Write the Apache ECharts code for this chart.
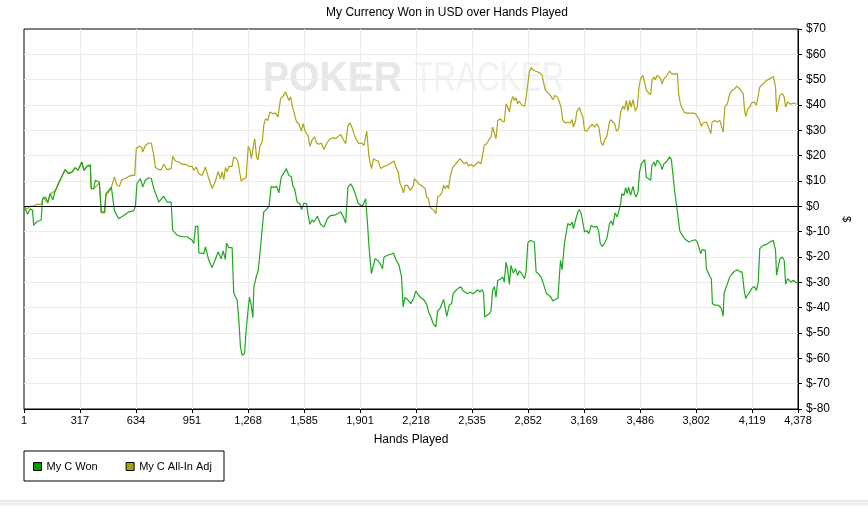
<html>
<head>
<meta charset="utf-8" />
<script src="https://cdn.jsdelivr.net/npm/echarts@6/dist/echarts.min.js"></script>
<style type="text/css">
	html, body, #main {
	width: 100%;
	height: 100%;
	margin: 0;
	background: #fff;
}
</style>
</head>
<body>
	<div id="main"></div>
	<script>
		var handTicks = [1, 317, 634, 951, 1268, 1585, 1901, 2218, 2535, 2852, 3169, 3486, 3802, 4119, 4378];

		// [hand, dollars]
		var myCWon = [
			[1,0],[7,0],[21,-3],[36,-1],[49,-1.5],[56,-7.5],[73,-6],[98,-5.5],[106,3],[121,3.7],[136,1.7],[149,5],[164,2.6],[177,6],[196,9],[215,11.8],[234,14.5],[253,12.9],[272,13.5],[291,15.3],[306,14.2],[328,17.5],[340,14.2],[357,15.8],[376,16.4],[381,7],[395,7],[404,10.3],[427,9.6],[438,-2.2],[457,-2.2],[464,5],[480,6.3],[495,7.6],[506,7.4],[512,-1.6],[536,-4.9],[565,-3.6],[593,-2.2],[621,-1.8],[631,0],[640,9],[659,11],[672,7.6],[687,10.3],[706,11.3],[721,11],[735,7],[744,7.6],[763,1.7],[791,4],[810,1.7],[833,1.7],[842,-9.5],[867,-11.4],[895,-12],[923,-12],[952,-13.4],[961,-14.7],[971,-7.9],[984,-7.9],[990,-18.4],[1018,-18.7],[1027,-16],[1046,-21.3],[1065,-24.2],[1084,-20.7],[1099,-18],
			[1108,-18],[1116,-20.7],[1127,-17.6],[1140,-21],[1146,-14.5],[1159,-16.3],[1178,-16.3],[1187,-34.2],[1197,-35.8],[1206,-36.8],[1216,-45],[1225,-55.5],[1235,-58.8],[1248,-58.2],[1257,-49],[1267,-41.7],[1276,-35.8],[1286,-39],[1295,-44],[1301,-31.8],[1314,-27.9],[1325,-25.5],[1333,-20.3],[1344,-20.3],[1357,-2.2],[1371,-1.3],[1386,0],[1399,7.9],[1414,7.4],[1429,7.9],[1442,5.3],[1456,11.6],[1471,13.2],[1484,14.9],[1499,12.2],[1512,11.8],[1522,7.9],[1531,7],[1546,1.7],[1561,1],[1571,-1.3],[1584,1.3],[1599,1],[1607,-3.2],[1618,-7.1],[1631,-5.3],[1641,-6.2],[1660,-3.9],[1678,-7.1],[1697,-8.2],[1716,-4.9],[1735,-3.6],[1754,-3.6],[1773,-2.9],[1792,-2.2],[1807,-4.2],[1820,-6.6],[1833,7.6],[1848,8.9],[1864,7],[1877,4.3],[1890,1.3],[1905,0.4],[1918,0.4],[1933,3],[1943,-6.2],[1952,-16],[1966,-26.6],[1977,-26.6],[1986,-20.7],[2000,-21.3],[2015,-22.6],[2028,-24.6],[2037,-20],[2056,-19.3],[2075,-18.9],[2090,-18.4],[2104,-21],[2122,-23.3],[2136,-27.9],[2145,-39.7],[2155,-36],[2170,-36.8],[2189,-38.4],[2204,-36.4],
			[2207,-36.4],[2217,-33.4],[2232,-35.1],[2245,-36],[2264,-37.1],[2277,-38.4],[2289,-41.7],[2302,-43.7],[2315,-46.3],[2330,-47.6],[2340,-41.3],[2353,-40.4],[2364,-40],[2374,-36.8],[2383,-36.4],[2392,-43.4],[2406,-39],[2419,-38.4],[2428,-34.5],[2443,-33.2],[2459,-32.2],[2472,-31.8],[2485,-33.4],[2496,-32.9],[2510,-34.5],[2523,-33.8],[2538,-34.5],[2553,-33.8],[2566,-32.9],[2579,-33.8],[2591,-32.9],[2600,-34.2],[2606,-43.7],[2617,-44.3],[2632,-42.4],[2642,-41.3],[2651,-33.2],[2661,-31.6],[2670,-36],[2680,-29.2],[2693,-28.9],[2708,-27.9],[2717,-29.9],[2727,-22],[2736,-25],[2746,-30.8],[2755,-23.3],[2768,-26.3],[2780,-24.6],[2793,-27.2],[2802,-25.5],[2816,-26.6],[2831,-28.6],[2840,-25.9],[2850,-14.5],[2863,-13.4],[2874,-13.2],[2887,-14.1],[2897,-25.9],[2910,-26.6],[2925,-27.9],[2938,-30.5],[2950,-33.2],[2957,-34.5],[2969,-35.1],[2982,-36],[2991,-37.4],[3004,-36.8],[3020,-36.4],[3029,-37.1],[3035,-21.3],[3044,-25],[3057,-14.7],[3067,-14.5],[3076,-6.8],[3089,-7.5],[3101,-6.2],[3108,-8.8],[3120,-5.5],[3133,-2.2],[3142,-1.3],[3152,-2.9],[3161,-3.6],[3171,-10.1],[3184,-9.5],[3195,-10.8],[3209,-7.5],[3222,-8.2],[3233,-8.8],[3241,-7.9],[3250,-9.5],[3260,-14.7],[3271,-15.8],[3284,-14.5],[3297,-12.8],[3312,-6.8],
			[3322,-5.8],[3331,-7.5],[3337,-8.2],[3344,-2.6],[3356,-4.2],[3363,-2.2],[3375,1],[3382,5],[3394,4.3],[3403,7.4],[3412,5],[3420,7.6],[3431,4.3],[3445,7.9],[3454,5],[3463,3.7],[3473,5.7],[3482,13.6],[3492,16.8],[3501,17.5],[3511,18.4],[3520,11.6],[3533,10.9],[3545,10.3],[3552,16.2],[3564,17.5],[3571,15.8],[3582,18.2],[3590,18.2],[3601,16.6],[3609,14.5],[3620,16.8],[3633,17.5],[3643,17.1],[3652,19.5],[3662,18.4],[3671,18.2],[3681,5.7],[3690,5],[3700,-4.2],[3709,-9.5],[3718,-10.8],[3728,-11.4],[3737,-12.8],[3747,-13.2],[3760,-14.1],[3771,-13.4],[3785,-13.4],[3798,-13.2],[3809,-14.1],[3817,-14.5],[3828,-18.7],[3836,-17.1],[3847,-17.4],[3854,-17.4],[3860,-24.6],[3870,-25.3],[3879,-27.6],[3888,-28.6],[3894,-38.4],[3907,-39],[3922,-39],[3936,-39.5],[3945,-40.4],[3955,-43.4],[3960,-34.2],[3968,-33.8],[3979,-30.5],[3992,-27.9],[4006,-26.6],[4021,-25.5],[4036,-25],[4049,-25.9],[4062,-25.9],[4074,-33.2],[4083,-36.4],[4092,-35.1],[4106,-33.8],[4115,-32.5],[4130,-31.6],[4143,-33.2],[4153,-29.9],[4162,-16.7],[4172,-17.1],[4181,-15.4],[4191,-14.7],[4200,-15],[4210,-14.7],[4219,-14.1],[4229,-14.5],[4238,-13.4],[4244,-12.8],[4251,-17.4],[4257,-27.2],[4266,-23.9],[4276,-20.7],[4289,-20],[4300,-21.3],[4308,-30.8],[4319,-28.6],[4327,-29.2],[4338,-29.9],[4351,-29.2],[4364,-29.9],[4378,-30.3]
		];

		var myCAllInAdj = [
			[1,0],[17,-1],[36,0],[55,0],[73,0.8],[98,0.8],[111,3.4],[136,1.3],[149,5],[177,6],[196,9],[215,11.8],[234,14.5],[253,12.9],[272,13.5],[291,15.3],[306,14.2],[328,17.5],[340,14.2],[357,15.8],[376,15.8],[381,7],[395,7],[427,9.2],[438,-2.6],[457,-2.6],[464,4.3],[480,5.6],[495,7.4],[506,7],[512,11.6],[527,8.3],[540,7.9],[555,10.5],[574,11],[593,11.8],[612,12.2],[627,12.2],[636,22.8],[653,23.7],[668,23.2],[672,21.4],[687,24],[706,25],[721,25],[735,20.1],[744,15.3],[763,14.5],[778,14.5],[791,16.6],[810,14.5],[833,14.9],[842,19.7],[857,17.9],[876,17.5],[895,16.6],[914,16.6],[933,15.8],[952,15.8],[961,14.2],[975,15.5],[990,12.9],[1008,12.2],[1027,15.5],[1042,11.8],[1065,7],[1084,10],[1099,13.8],
			[1102,13.6],[1112,10.9],[1121,13.6],[1131,10.5],[1140,15.3],[1150,13.6],[1159,15.8],[1178,15.8],[1187,19.5],[1202,18.8],[1210,17.9],[1221,18.2],[1229,10],[1244,10.9],[1257,11.3],[1269,23.7],[1278,22.4],[1287,18.8],[1297,23.4],[1306,26.7],[1316,19.5],[1325,18.4],[1335,23.7],[1348,25.4],[1357,32],[1367,34.6],[1380,33.9],[1391,37.2],[1405,36.6],[1423,36.8],[1437,35.3],[1452,42.5],[1465,43.4],[1480,45.1],[1490,44.5],[1499,41.8],[1508,43.2],[1520,39.2],[1531,38.6],[1542,33.3],[1556,32.6],[1569,29.7],[1580,32.6],[1593,29.3],[1607,28],[1618,23.7],[1631,26.3],[1644,27.4],[1656,25],[1669,24.5],[1682,25],[1697,22.4],[1712,24.7],[1726,26.3],[1745,27.1],[1763,26.7],[1777,27.6],[1792,28.4],[1807,26.3],[1820,24.7],[1833,32],[1845,32.9],[1858,30.7],[1867,28.7],[1882,26.1],[1896,24.7],[1909,25],[1924,24.1],[1939,29.7],[1952,19.5],[1966,14.9],[1977,18.8],[1990,18.2],[2003,17.9],[2019,14.9],[2037,15.8],[2056,16.2],[2075,17.1],[2094,17.9],[2104,15.5],[2117,13.6],[2128,8.9],[2138,7.4],[2147,5.3],[2156,8.3],[2170,8.3],[2185,6.3],[2204,8.3],
			[2207,10.9],[2221,10],[2236,8.7],[2255,7.9],[2270,7],[2277,3.7],[2289,3],[2296,-0.3],[2307,-0.3],[2321,-1.8],[2330,-2.9],[2340,3.7],[2353,4.3],[2364,5.3],[2374,8.3],[2383,7],[2392,8.3],[2402,7],[2411,11.8],[2425,15.3],[2440,16.6],[2453,17.5],[2466,18.8],[2477,18.2],[2491,16.8],[2504,17.5],[2515,15.8],[2528,16.6],[2542,15.8],[2557,16.6],[2572,17.5],[2585,16.8],[2595,16.6],[2604,24.1],[2617,24.7],[2629,26.1],[2642,27.4],[2651,31.3],[2661,32],[2670,26.7],[2680,33.9],[2693,34.6],[2704,33.7],[2717,33.3],[2727,40.5],[2736,39.2],[2746,37.2],[2755,41.2],[2765,43.4],[2774,41.8],[2783,42.9],[2793,40.5],[2802,41.6],[2817,39.9],[2831,39.5],[2840,42.5],[2850,48.4],[2859,53],[2868,54.7],[2882,53.7],[2893,54.3],[2906,53],[2919,52.6],[2931,51.7],[2938,49.1],[2950,45.8],[2957,45.5],[2969,44.5],[2982,43.4],[2991,42.1],[3004,43.8],[3020,42.9],[3029,42.5],[3038,39.2],[3048,33.9],[3063,32.9],[3076,33.3],[3089,32.9],[3101,34.2],[3108,31.3],[3120,33.7],[3127,37.4],[3142,39],[3152,36.8],[3161,35.5],[3171,30],[3184,29.7],[3199,31.3],[3214,32.4],[3227,31.3],[3241,32.6],[3252,31.1],[3265,25],[3275,24.1],[3284,26.1],[3297,27.6],[3312,33.3],
			[3318,34.2],[3329,34.6],[3341,32.6],[3352,29.7],[3363,30.5],[3375,37.2],[3388,39.5],[3397,38.2],[3407,41.8],[3416,37.6],[3426,41.8],[3435,39.2],[3445,42.1],[3458,37.6],[3469,39.2],[3479,47.1],[3488,50.4],[3501,51.7],[3511,52.4],[3520,46],[3533,44.7],[3545,44.2],[3552,49.7],[3564,51.1],[3571,50],[3582,51.7],[3590,52.1],[3601,50.4],[3609,48.4],[3620,50.4],[3633,51.3],[3643,51.7],[3652,53.4],[3662,52.4],[3675,52.1],[3684,52.6],[3696,52.4],[3703,44.5],[3713,40.5],[3722,38.9],[3734,37.2],[3747,36.8],[3760,36.8],[3771,36.3],[3785,36.8],[3798,36.6],[3809,35.9],[3817,34.6],[3824,33.9],[3832,31.6],[3841,32.9],[3851,32.4],[3860,33.3],[3870,31.6],[3885,28.7],[3892,33.3],[3907,33.9],[3922,33.3],[3936,33.9],[3945,33.7],[3955,29.3],[3964,39.2],[3979,40.5],[3992,44.5],[4006,45.8],[4021,46.4],[4030,47.4],[4040,47.1],[4049,46.4],[4058,46],[4068,44.5],[4077,37.2],[4083,35.5],[4092,38.2],[4106,39.2],[4115,40.8],[4130,41.2],[4143,39.9],[4153,40.5],[4162,47.1],[4172,47.8],[4181,48.4],[4191,49.1],[4200,49.7],[4210,49.5],[4219,50.4],[4229,50.8],[4238,51.3],[4244,51.7],[4251,47.1],[4257,37.2],[4266,40.5],[4276,43.8],[4289,44.5],[4300,43.2],[4308,39.2],[4319,41.2],[4327,41.8],[4338,40.3],[4351,40.8],[4364,40.5],[4378,40.3]
		];

		var FONT = 'Liberation Sans';
		var chart = echarts.init(document.getElementById('main'));

		function withCommas(v) {
			return String(v).replace(/\B(?=(\d{3})+(?!\d))/g, ',');
		}

		var option = {
			animation : false,
			backgroundColor : '#fff',
			textStyle : { fontFamily : FONT },
			title : {
				text : 'My Currency Won in USD over Hands Played',
				left : 442, top : 2, textAlign : 'center',
				textStyle : { fontSize : 12, fontWeight : 'normal', color : '#000', fontFamily : FONT }
			},
			graphic : [
				// watermark
				{ type : 'text', x : 263, y : 58, scaleX : 0.93, z : 0, silent : true,
				  style : { text : 'POKER', x : 0, y : 0, align : 'left', verticalAlign : 'top',
				            font : 'bold 42px "Liberation Sans"', fill : '#e7e7e7' } },
				{ type : 'text', x : 414, y : 58, scaleX : 0.75, z : 0, silent : true,
				  style : { text : 'TRACKER', x : 0, y : 0, align : 'left', verticalAlign : 'top',
				            font : '42px "Liberation Sans"', fill : '#f2f2f2' } },
				// legend frame
				{ type : 'rect', shape : { x : 24, y : 451, width : 200, height : 30 },
				  style : { fill : '#fff', stroke : '#000', lineWidth : 1 } },
				// bottom band
				{ type : 'rect', shape : { x : 0, y : 500, width : 868, height : 6 },
				  style : { fill : '#f0f0f0' } },
				{ type : 'rect', shape : { x : 0, y : 500, width : 868, height : 1 },
				  style : { fill : '#e2e2e2' } }
			],
			legend : {
				left : 28, top : 456,
				icon : 'rect', itemWidth : 8, itemHeight : 8, itemGap : 28,
				itemStyle : { borderColor : '#000', borderWidth : 1 },
				textStyle : { fontSize : 11, color : '#000', fontFamily : FONT },
				data : [ 'My C Won', 'My C All-In Adj' ]
			},
			grid : {
				left : 24, right : 70, top : 29, bottom : 115,
				show : true, borderColor : '#000', borderWidth : 1
			},
			xAxis : {
				type : 'value', min : 1, max : 4378,
				name : 'Hands Played', nameLocation : 'middle', nameGap : 25,
				nameTextStyle : { fontSize : 12, color : '#000' },
				axisLine : { onZero : false, lineStyle : { color : '#000' } },
				axisTick : { customValues : handTicks, length : 4, lineStyle : { color : '#000' } },
				axisLabel : { customValues : handTicks, color : '#000', fontSize : 11, margin : 6,
					formatter : function(v) { return withCommas(v); } },
				splitLine : { show : true, showMinLine : false, showMaxLine : false, lineStyle : { color : '#ebebeb' } }
			},
			yAxis : {
				type : 'value', position : 'right', min : -80, max : 70, interval : 10,
				name : '$', nameLocation : 'middle', nameGap : 38, nameRotate : -90,
				nameTextStyle : { fontSize : 11, color : '#000' },
				axisLine : { show : true, onZero : false, lineStyle : { color : '#000' } },
				axisTick : { show : true, length : 4, lineStyle : { color : '#000' } },
				axisLabel : { color : '#000', fontSize : 12, margin : 8,
					formatter : function(v) { return '$' + v; } },
				splitLine : { show : true, showMinLine : false, showMaxLine : false, lineStyle : { color : '#ebebeb' } }
			},
			series : [ {
				name : 'My C All-In Adj',
				type : 'line',
				data : myCAllInAdj,
				showSymbol : false,
				color : '#a9a313',
				lineStyle : { width : 1.2, color : '#aca415' },
				z : 2
			}, {
				name : 'My C Won',
				type : 'line',
				data : myCWon,
				showSymbol : false,
				color : '#009c00',
				lineStyle : { width : 1.2, color : '#1ea81e' },
				z : 3,
				markLine : {
					silent : true, symbol : 'none', label : { show : false },
					lineStyle : { color : '#000', width : 1, type : 'solid' },
					data : [ { yAxis : 0 } ]
				}
			} ]
		};

		chart.setOption(option);

		window.onresize = function() {
			chart.resize();
		}
	</script>
</body>
</html>
